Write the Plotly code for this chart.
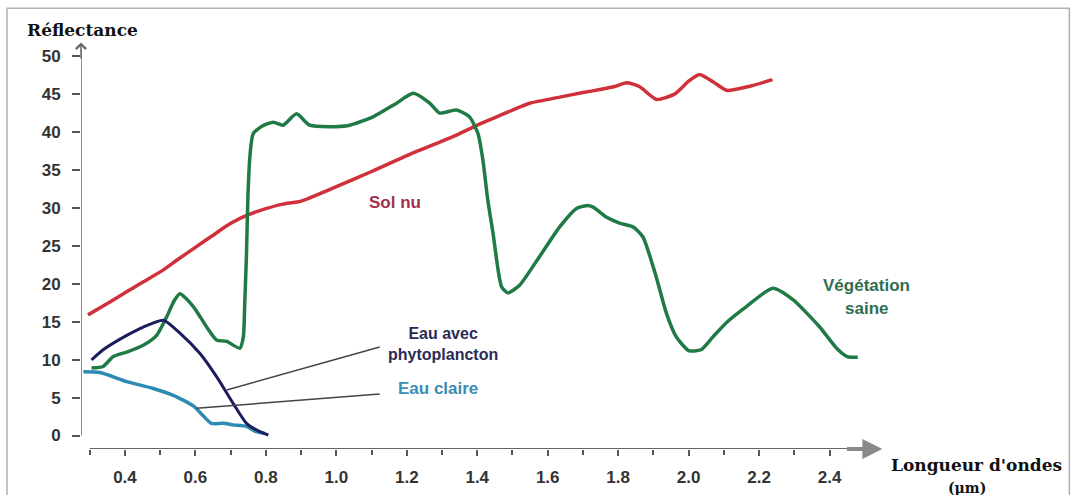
import plotly.graph_objects as go

# Spectral reflectance curves (wavelength in µm, reflectance in %)
sol_x = [0.295, 0.35, 0.40, 0.45, 0.508, 0.55, 0.60, 0.65, 0.698, 0.75, 0.80, 0.848, 0.90,
         1.00, 1.10, 1.20, 1.30, 1.35, 1.40, 1.45, 1.50, 1.549, 1.634, 1.70, 1.748, 1.790,
         1.824, 1.86, 1.909, 1.96, 2.00, 2.031, 2.07, 2.108, 2.17, 2.238]
sol_y = [15.9, 17.4, 18.8, 20.2, 21.8, 23.2, 24.8, 26.4, 27.9, 29.1, 29.9, 30.5, 30.9,
         32.8, 34.8, 36.9, 38.8, 39.8, 40.9, 41.9, 42.9, 43.8, 44.6, 45.2, 45.6, 46.0,
         46.5, 46.0, 44.3, 45.0, 46.7, 47.6, 46.6, 45.5, 46.0, 46.9]

veg_x = [0.305, 0.338, 0.367, 0.405, 0.452, 0.490, 0.518, 0.540, 0.556, 0.594, 0.632,
         0.660, 0.689, 0.726, 0.736, 0.740, 0.745, 0.749, 0.755, 0.764, 0.790, 0.821,
         0.849, 0.887, 0.924, 0.981, 1.038, 1.104, 1.171, 1.218, 1.265, 1.293, 1.341,
         1.378, 1.402, 1.416, 1.430, 1.445, 1.469, 1.487, 1.520, 1.577, 1.634, 1.681,
         1.710, 1.729, 1.766, 1.804, 1.842, 1.870, 1.908, 1.937, 1.965, 2.000, 2.035,
         2.069, 2.110, 2.164, 2.239, 2.296, 2.372, 2.420, 2.450, 2.480]
veg_y = [8.9, 9.1, 10.4, 11.0, 11.9, 13.2, 15.6, 17.8, 18.7, 17.0, 14.3,
         12.6, 12.4, 11.5, 13.0, 17.4, 24.0, 31.5, 37.0, 39.8, 40.8, 41.3,
         40.9, 42.4, 40.9, 40.7, 40.9, 42.0, 43.8, 45.1, 43.8, 42.5, 42.9,
         42.0, 39.8, 36.3, 31.0, 26.6, 19.6, 18.8, 19.8, 23.6, 27.5, 29.9,
         30.3, 30.1, 28.8, 28.0, 27.5, 26.2, 20.9, 16.1, 13.0, 11.2, 11.3,
         13.0, 15.0, 17.0, 19.4, 17.9, 14.3, 11.5, 10.4, 10.3]

phyto_x = [0.305, 0.338, 0.405, 0.452, 0.509, 0.556, 0.613, 0.660, 0.707, 0.745, 0.783, 0.807]
phyto_y = [9.95, 11.3, 13.2, 14.3, 15.2, 13.5, 10.8, 7.75, 4.24, 1.6, 0.5, 0.07]

claire_x = [0.282, 0.329, 0.405, 0.480, 0.537, 0.594, 0.622, 0.645, 0.679, 0.707, 0.745, 0.772, 0.796]
claire_y = [8.4, 8.3, 7.1, 6.2, 5.3, 3.9, 2.6, 1.6, 1.6, 1.4, 1.2, 0.5, 0.3]

x_ticks = [0.4, 0.6, 0.8, 1.0, 1.2, 1.4, 1.6, 1.8, 2.0, 2.2, 2.4]
x_tick_text = ["0.4", "0.6", "0.8", "1.0", "1.2", "1.4", "1.6", "1.8", "2.0", "2.2", "2.4"]
x_minor = [0.3, 0.5, 0.7, 0.9, 1.1, 1.3, 1.5, 1.7, 1.9, 2.1, 2.3]
y_ticks = [0, 5, 10, 15, 20, 25, 30, 35, 40, 45, 50]

X0, X1 = 0.2752, 2.6
Y0, Y1 = -1.78, 52.0

SANS = "Liberation Sans, Arial, sans-serif"
SERIF = "DejaVu Serif, serif"

fig = go.Figure()
spl = dict(shape="spline", smoothing=0.6)
fig.add_trace(go.Scatter(x=sol_x, y=sol_y, mode="lines",
                         line=dict(color="#d0303a", width=3.5, **spl)))
fig.add_trace(go.Scatter(x=veg_x, y=veg_y, mode="lines",
                         line=dict(color="#1f7a45", width=3.5, **spl)))
fig.add_trace(go.Scatter(x=claire_x, y=claire_y, mode="lines",
                         line=dict(color="#2b8bb3", width=3.5, **spl)))
fig.add_trace(go.Scatter(x=phyto_x, y=phyto_y, mode="lines",
                         line=dict(color="#1c1c5e", width=3, **spl)))

shapes = [
    # y axis line
    dict(type="line", xref="x", yref="y", x0=X0, x1=X0, y0=0, y1=50.8,
         line=dict(color="#666", width=1.5)),
    # x axis line
    dict(type="line", xref="x", yref="y", x0=0.3, x1=2.45, y0=Y0, y1=Y0,
         line=dict(color="#666", width=2)),
    # pointer lines to the water curves
    dict(type="line", xref="x", yref="y", x0=0.689, y0=6.0, x1=1.123, y1=11.66,
         line=dict(color="#444", width=1.5)),
    dict(type="line", xref="x", yref="y", x0=0.603, y0=3.58, x1=1.123, y1=5.47,
         line=dict(color="#444", width=1.5)),
    # outer frame
    dict(type="rect", xref="paper", yref="paper", x0=-0.0903, x1=1.2068, y0=-0.14, y1=1.0804,
         line=dict(color="#b0b0b0", width=1.5)),
]

annotations = [
    # y axis arrow tip
    dict(x=X0, y=51.8, ax=X0, ay=49.5, xref="x", yref="y", axref="x", ayref="y",
         showarrow=True, arrowhead=4, arrowsize=1.3, arrowwidth=1.5, arrowcolor="#666", text=""),
    # x axis arrow tip
    dict(x=2.55, y=Y0, ax=2.445, ay=Y0, xref="x", yref="y", axref="x", ayref="y",
         showarrow=True, arrowhead=2, arrowsize=1, arrowwidth=4, arrowcolor="#8a8a8a", text=""),
    dict(x=-0.0683, y=1.0265, xref="paper", yref="paper", xanchor="left", yanchor="middle",
         text="<b>Réflectance</b>", showarrow=False, font=dict(family=SERIF, size=17, color="#111")),
    dict(x=1.0934, y=-0.0392, xref="paper", yref="paper", xanchor="center", yanchor="middle",
         text="<b>Longueur d'ondes</b>", showarrow=False, font=dict(family=SERIF, size=17, color="#111")),
    dict(x=1.0823, y=-0.0955, xref="paper", yref="paper", xanchor="center", yanchor="middle",
         text="<b>(µm)</b>", showarrow=False, font=dict(family=SERIF, size=14, color="#111")),
    dict(x=1.167, y=30.76, xref="x", yref="y", text="<b>Sol nu</b>", showarrow=False,
         font=dict(family=SANS, size=17, color="#a3304a")),
    dict(x=2.506, y=19.8, xref="x", yref="y", text="<b>Végétation</b>", showarrow=False,
         font=dict(family=SANS, size=17, color="#2f6e4e")),
    dict(x=2.506, y=16.8, xref="x", yref="y", text="<b>saine</b>", showarrow=False,
         font=dict(family=SANS, size=17, color="#2f6e4e")),
    dict(x=1.302, y=12.12, xref="x", yref="y", text="<b>Eau avec<br>phytoplancton</b>",
         showarrow=False, font=dict(family=SANS, size=16, color="#2a2a55")),
    dict(x=1.289, y=6.26, xref="x", yref="y", text="<b>Eau claire</b>", showarrow=False,
         font=dict(family=SANS, size=17, color="#3b8db5")),
]

fig.update_layout(
    width=1072, height=495,
    margin=dict(l=81, r=171.5, t=40.8, b=46, autoexpand=False),
    paper_bgcolor="white", plot_bgcolor="white",
    showlegend=False,
    shapes=shapes, annotations=annotations,
    xaxis=dict(range=[X0, X1], showgrid=False, zeroline=False, showline=False, automargin=False,
               tickvals=x_ticks, ticktext=x_tick_text, ticks="outside", ticklen=6,
               tickwidth=1.5, tickcolor="#555", ticklabelstandoff=7,
               tickfont=dict(family=SANS, size=17, color="#333", weight="bold"),
               minor=dict(tickvals=x_minor, ticks="outside", ticklen=5, tickwidth=1.5, tickcolor="#555")),
    yaxis=dict(range=[Y0, Y1], showgrid=False, zeroline=False, showline=False, automargin=False,
               tickvals=y_ticks, ticks="outside", ticklen=8, tickwidth=1.5, tickcolor="#555",
               ticklabelstandoff=8,
               tickfont=dict(family=SANS, size=17, color="#333", weight="bold")),
)

fig.write_html("out.html")
